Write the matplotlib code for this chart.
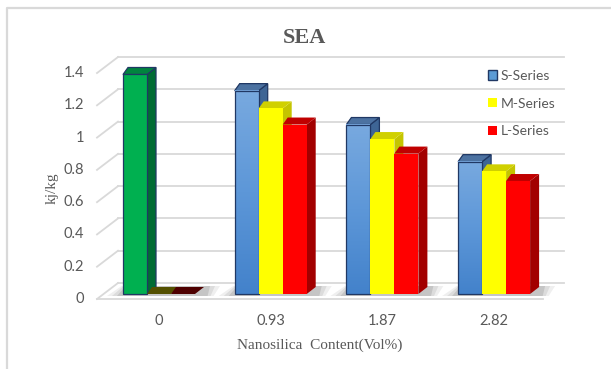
import numpy as np
import matplotlib
matplotlib.use("Agg")
import matplotlib.pyplot as plt
from matplotlib.patches import Polygon, Rectangle, Patch
from matplotlib.colors import LinearSegmentedColormap
from matplotlib.lines import Line2D

# SEA values per nanosilica content
categories = ["0", "0.93", "1.87", "2.82"]
s_series = [1.36, 1.26, 1.05, 0.82]
m_series = [0.0, 1.15, 0.96, 0.76]
l_series = [0.0, 1.05, 0.87, 0.70]
series_names = ["S-Series", "M-Series", "L-Series"]
y_ticks = [0, 0.2, 0.4, 0.6, 0.8, 1.0, 1.2, 1.4]
y_tick_labels = ["0", "0.2", "0.4", "0.6", "0.8", "1", "1.2", "1.4"]

W, H = 611, 369
fig = plt.figure(figsize=(W / 100, H / 100), dpi=100)
ax = fig.add_axes([0, 0, 1, 1])

# pixels per category / per kj/kg, and where (0, 0) sits on the canvas
sx, sy = 111.7, 161.4
x0_px, y0_px = 159, 294
xlim = (-x0_px / sx, (W - x0_px) / sx)
ylim = ((y0_px - H) / sy, y0_px / sy)


def px_x(p):
    return p / sx


def px_y(p):
    return p / sy


grid_c = "#d9d9d9"
text_c = "#595959"
sans = "Lato"
serif = "Liberation Serif"

# walls and floor of the 3-D box
front_left = px_x(97 - x0_px)
back_left = px_x(118 - x0_px)
back_right = px_x(564 - x0_px)
floor_right = px_x(543 - x0_px)
back_off = px_y(11)
front_off = px_y(-5)
for v, lab in zip(y_ticks, y_tick_labels):
    ax.plot([front_left, back_left], [v + front_off, v + back_off], color=grid_c, lw=1.3, zorder=1)
    ax.plot([back_left, back_right], [v + back_off, v + back_off], color=grid_c, lw=1.3, zorder=1)
    ax.text(px_x(84 - x0_px), v + front_off, lab, ha="right", va="center",
            fontsize=10.5, color=text_c, family=sans)
ax.plot([front_left, floor_right], [front_off, front_off], color=grid_c, lw=1.3, zorder=1)

for i, c in enumerate(categories):
    ax.text(i, px_y(-27), c, ha="center", va="center", fontsize=10.5, color=text_c, family=sans)

# bar geometry
w = px_x(24)
offsets = [-w * 1.5, -w * 0.5, w * 0.5]
dxl, dxr, ddy = px_x(5), px_x(9), px_y(7)

blue_cmap = LinearSegmentedColormap.from_list("blue", ["#4382cb", "#5d97d8", "#78a9df"])
styles = [
    dict(front="#5b9bd5", side="#3e6595", top="#4c72a1", edge="#203864", flat="#1f3864"),
    dict(front="#ffff00", side="#c4c400", top="#d0d000", edge=None, flat="#545000"),
    dict(front="#ff0000", side="#a20000", top="#c00000", edge=None, flat="#4e0000"),
]
green = dict(front="#00b050", side="#006b33", top="#00843e", edge="#203864")


def shadow(xl, xr, z):
    for e, a in [(16, 0.07), (11, 0.09), (6, 0.12)]:
        pts = [(xl - px_x(e), -px_y(2)), (xr + dxr + px_x(e * 0.6), -px_y(2)),
               (xr + dxr + px_x(e), ddy + px_y(1)), (xl + dxl - px_x(e * 0.4), ddy + px_y(1))]
        ax.add_patch(Polygon(pts, closed=True, facecolor="#202020", edgecolor="none",
                             alpha=a, zorder=z))


def bar3d(xl, value, st, z, gradient=False):
    xr = xl + w
    ec = st["edge"] if st["edge"] else "none"
    lw = 0.9 if st["edge"] else 0
    if value == 0:
        pts = [(xl, 0), (xr, 0), (xr + dxr, ddy), (xl + dxl, ddy)]
        ax.add_patch(Polygon(pts, closed=True, facecolor=st["flat"], edgecolor="none", zorder=z))
        return
    side = [(xr, 0), (xr + dxr, ddy), (xr + dxr, value + ddy), (xr, value)]
    top = [(xl, value), (xr, value), (xr + dxr, value + ddy), (xl + dxl, value + ddy)]
    ax.add_patch(Polygon(side, closed=True, facecolor=st["side"], edgecolor=ec, lw=lw, zorder=z))
    ax.add_patch(Polygon(top, closed=True, facecolor=st["top"], edgecolor=ec, lw=lw, zorder=z))
    if gradient:
        grad = np.linspace(0, 1, 200).reshape(-1, 1)
        ax.imshow(grad, extent=(xl, xr, 0, value), origin="lower", cmap=blue_cmap,
                  aspect="auto", interpolation="bicubic", zorder=z + 0.1)
        ax.add_patch(Rectangle((xl, 0), w, value, facecolor="none", edgecolor=ec, lw=lw, zorder=z + 0.2))
    else:
        ax.add_patch(Rectangle((xl, 0), w, value, facecolor=st["front"], edgecolor=ec, lw=lw,
                               zorder=z + 0.1))


for i in range(len(categories)):
    vals = [s_series[i], m_series[i], l_series[i]]
    shadow(i + offsets[0], i + offsets[2] + w, 2)
    for k, v in enumerate(vals):
        z = 3 + k
        if i == 0 and k == 0:
            bar3d(i + offsets[k], v, green, z)
        else:
            bar3d(i + offsets[k], v, styles[k], z, gradient=(k == 0))

ax.set_xlim(*xlim)
ax.set_ylim(*ylim)
ax.axis("off")

handles = [Patch(facecolor="#5b9bd5", edgecolor="#203864", lw=1.0),
           Patch(facecolor="#ffff00", edgecolor="none"),
           Patch(facecolor="#ff0000", edgecolor="none")]
leg = ax.legend(handles, series_names, loc="upper left", bbox_to_anchor=(481 / W, 1 - 63 / H),
                bbox_transform=fig.transFigure, frameon=False, handlelength=0.65,
                handleheight=0.65, handletextpad=0.25, labelspacing=1.12, borderpad=0,
                prop=dict(family=sans, size=10))
for t in leg.get_texts():
    t.set_color(text_c)

fig.text(305 / W, 1 - 38 / H, "SEA", ha="center", va="center", family=serif,
         weight="bold", fontsize=16, color=text_c)
fig.text(320 / W, 1 - 345 / H, "Nanosilica  Content(Vol%)", ha="center", va="center",
         family=serif, fontsize=11, color=text_c)
fig.text(52 / W, 1 - 188 / H, "kj/kg", ha="center", va="center", rotation=90,
         family=serif, fontsize=11, color=text_c)

# outer chart border (top and left edges visible)
fig.add_artist(Line2D([7 / W, 7 / W, 1], [0, 1 - 8 / H, 1 - 8 / H], transform=fig.transFigure,
                      color=grid_c, lw=1.6))

fig.savefig("out.png", dpi=100)
